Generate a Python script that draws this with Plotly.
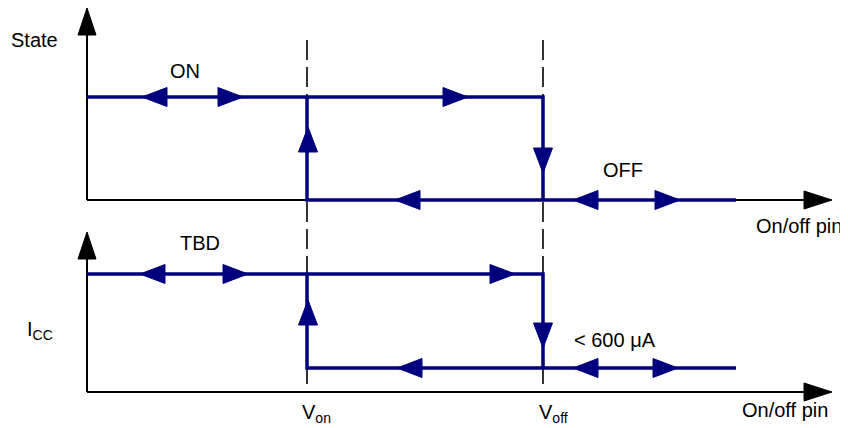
import plotly.graph_objects as go

# on/off pin positions (horizontal, px-like diagram units)
pin_x = {"origin": 87, "V_on": 307, "V_off": 543, "trace_end": 736, "axis_end": 832}

# two panels: State (top) and Icc (bottom)
panel_names = ["State", "I<sub>CC</sub>"]
axis_y = [200, 392]          # horizontal axis level
axis_top = [8, 232]          # tip of vertical axis arrow
upper_level = [97, 274]      # ON / TBD level
lower_level = [200, 368]     # OFF / <600uA level
upper_text = ["ON", "TBD"]
lower_text = ["OFF", "< 600 μA"]

# arrow tips along the traces
upper_left_tips = [142, 140]
upper_right_tips = [243, 248]
upper_mid_tips = [468, 515]
up_arrow_tips = [127, 300]
down_arrow_tips = [173, 348]
lower_mid_tips = [395, 397]
lower_left_tips = [573, 573]
lower_right_tips = [680, 678]

NAVY = "#00007f"
BLACK = "#000000"

fig = go.Figure()


def line(xs, ys, color, width, dash=None):
    fig.add_trace(go.Scatter(x=xs, y=ys, mode="lines",
                             line=dict(color=color, width=width, dash=dash),
                             hoverinfo="skip", showlegend=False))


def arrow(tx, ty, direction, color, length=25, half=9.5):
    dx, dy = {"left": (1, 0), "right": (-1, 0), "up": (0, 1), "down": (0, -1)}[direction]
    bx, by = tx + dx * length, ty + dy * length
    px, py = -dy * half, dx * half
    fig.add_trace(go.Scatter(x=[tx, bx + px, bx - px, tx], y=[ty, by + py, by - py, ty],
                             mode="lines", fill="toself", fillcolor=color,
                             line=dict(color=color, width=1),
                             hoverinfo="skip", showlegend=False))


# dashed threshold lines
for key in ["V_on", "V_off"]:
    line([pin_x[key], pin_x[key]], [40, axis_y[1]], BLACK, 1.6, "20px,7px")

for i in range(2):
    # axes
    line([pin_x["origin"], pin_x["origin"]], [axis_y[i], axis_top[i] + 20], BLACK, 2)
    arrow(pin_x["origin"], axis_top[i], "up", BLACK, length=27, half=9)
    line([pin_x["origin"], pin_x["axis_end"] - 20], [axis_y[i], axis_y[i]], BLACK, 2)
    arrow(pin_x["axis_end"], axis_y[i], "right", BLACK, length=28, half=9)

    # hysteresis loop
    line([pin_x["origin"], pin_x["V_off"], pin_x["V_off"]],
         [upper_level[i], upper_level[i], lower_level[i]], NAVY, 3.5)
    line([pin_x["trace_end"], pin_x["V_on"], pin_x["V_on"]],
         [lower_level[i], lower_level[i], upper_level[i]], NAVY, 3.5)

    arrow(upper_left_tips[i], upper_level[i], "left", NAVY)
    arrow(upper_right_tips[i], upper_level[i], "right", NAVY)
    arrow(upper_mid_tips[i], upper_level[i], "right", NAVY)
    arrow(pin_x["V_on"] + 1, up_arrow_tips[i], "up", NAVY)
    arrow(pin_x["V_off"], down_arrow_tips[i], "down", NAVY)
    arrow(lower_mid_tips[i], lower_level[i], "left", NAVY)
    arrow(lower_left_tips[i], lower_level[i], "left", NAVY)
    arrow(lower_right_tips[i], lower_level[i], "right", NAVY)

font = dict(family="Liberation Sans, Arial, sans-serif", size=20, color=BLACK)
texts = [
    (34, 40, panel_names[0]),
    (40, 330, panel_names[1]),
    (185, 71, upper_text[0]),
    (200, 243, upper_text[1]),
    (623, 170, lower_text[0]),
    (615, 340, lower_text[1]),
    (799, 226, "On/off pin"),
    (785, 410, "On/off pin"),
    (316, 413, "V<sub>on</sub>"),
    (553, 413, "V<sub>off</sub>"),
]
for x, y, t in texts:
    fig.add_annotation(x=x, y=y, text=t, showarrow=False, font=font,
                       xanchor="center", yanchor="middle")

# page body has an 8px margin, so the ranges are offset to keep the drawing in place
fig.update_layout(
    width=848, height=428,
    margin=dict(l=0, r=0, t=0, b=0),
    paper_bgcolor="white", plot_bgcolor="white",
    xaxis=dict(range=[8, 856], visible=False, fixedrange=True),
    yaxis=dict(range=[436, 8], visible=False, fixedrange=True),
)

fig.write_html("out.html")
